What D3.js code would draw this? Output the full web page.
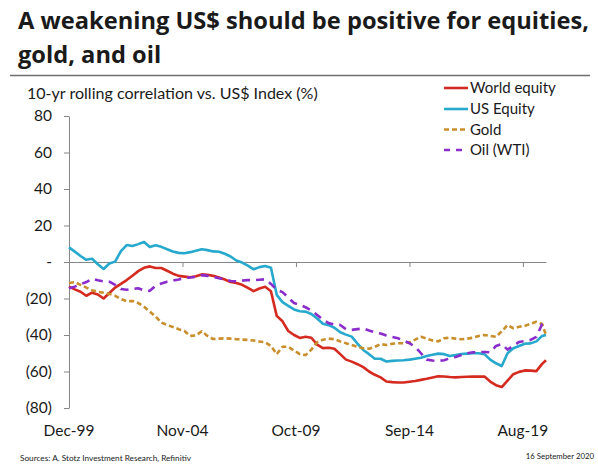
<!DOCTYPE html>
<html><head><meta charset="utf-8">
<script src="https://cdn.jsdelivr.net/npm/d3@7"></script>
<style>
body{margin:0;background:#fff}
svg{display:block}
text{font-family:Lato,"Open Sans",sans-serif;fill:#1a1a1a}
</style>
</head><body>
<svg id="chart" width="598" height="472"></svg>
<script>
// months elapsed since Dec-1999
const months = [0,3,6,9,12,15,18,21,24,27,30,33,36,39,42,45,48,51,54,57,60,63,66,69,72,75,78,81,84,87,90,93,96,99,102,105,108,111,114,117,120,123,126,129,132,135,138,141,144,147,150,153,156,159,162,165,168,171,174,177,180,183,186,189,192,195,198,201,204,207,210,213,216,219,222,225,228,231,234,237,240,243,246,248];

const worldEquity = [-13.5,-15,-16.3,-18.5,-16.8,-17.8,-20,-17,-14,-12,-9.9,-7.5,-5,-3.2,-2.4,-3.3,-3.3,-4.8,-6.4,-7.6,-8,-8.4,-7.8,-6.8,-7,-7.6,-8.5,-9.6,-11,-11.5,-12.5,-14.2,-16,-14.5,-13.6,-16,-29.5,-32.5,-37.8,-40,-41.6,-41,-41.5,-45.3,-47.2,-47,-47.5,-50.5,-53.5,-54.6,-56,-57.6,-60,-61.8,-63.2,-65.5,-65.8,-66,-66,-65.6,-65.2,-64.6,-64,-63.3,-62.6,-62.7,-63,-63.2,-63,-62.9,-62.8,-62.8,-62.8,-65.5,-67.5,-68.5,-65,-61.5,-60.2,-59.4,-59.5,-59.8,-55.8,-53.8];

const usEquity = [8,5.7,3.3,1.2,1.8,-1.2,-3.8,-0.8,0.2,6,9.3,8.8,9.8,11,8.2,9.2,8.3,7,5.8,5,4.8,5.4,6.2,7,6.5,5.8,5.6,4.5,3,0.8,-0.3,-2,-4,-2.8,-2.2,-3.2,-18,-22,-24,-26,-27,-27.2,-28.5,-31,-33.8,-34.6,-36,-38.5,-39.8,-40.9,-44.8,-48.2,-50.5,-53,-53,-54.5,-54.2,-54,-53.8,-53.5,-53,-52.5,-51.5,-50.8,-50.2,-50.5,-51.5,-51,-50.4,-50.2,-50,-50,-50.5,-53.5,-55.5,-57,-50,-47.3,-46,-44.8,-44.6,-43.5,-40.5,-40];

const gold = [-11.5,-11,-12.5,-14,-15.5,-16.3,-16.8,-17.5,-18.5,-20.3,-21.5,-21.4,-22.5,-24.5,-27.2,-29.8,-33.2,-34.5,-35.6,-36.8,-37.8,-40.5,-40.2,-38,-40.5,-42.2,-42,-41.8,-42,-42.3,-42.5,-42.7,-43,-43.6,-44,-46,-50.5,-46.4,-46.5,-48.5,-50.5,-51,-48,-44,-42.6,-42,-42.3,-43.5,-44.5,-45.5,-46.5,-47.3,-47.5,-46.5,-45,-45.5,-44.8,-44.5,-44.5,-44,-42.5,-41,-42,-43,-43.5,-41.8,-41.5,-42,-42.3,-42,-41.5,-40.5,-40,-40.5,-41,-38,-34.5,-36.3,-35.5,-35,-33.8,-32.8,-34,-40];

const oilWTI = [-14.4,-13.5,-12.2,-11,-9.2,-10,-10.6,-10.8,-12.5,-14.8,-15.2,-14.8,-14.4,-15.5,-15.8,-13,-11.8,-10.8,-10.2,-9.6,-8.8,-8.5,-8.2,-7.2,-7.6,-8.2,-8.9,-9.5,-10.4,-10.6,-10.2,-9.9,-10,-9.7,-9.5,-12,-15.2,-16.5,-19.5,-22.5,-23.5,-24.8,-26.5,-29,-31.5,-33.5,-34.2,-34.5,-36.8,-37.2,-36.8,-36.4,-37.5,-38.5,-39.2,-40.3,-41,-41.8,-43,-44.5,-46.5,-50,-53.5,-54,-54.2,-53.8,-52.8,-52,-51,-50,-49.5,-49.3,-49.3,-49.5,-46,-45,-48,-46,-43.8,-43.3,-42.7,-41,-34,-32.5];

const tickMonths = [0,59,118,177,236];
const tickLabels = ["Dec-99","Nov-04","Oct-09","Sep-14","Aug-19"];
const yTicks = [80,60,40,20,0,-20,-40,-60,-80];

const seriesNames = ["World equity","US Equity","Gold","Oil (WTI)"];
const seriesData = [worldEquity, usEquity, gold, oilWTI];
const seriesColors = ["#d42a1f","#27a9cd","#c98f2c","#8a2dcb"];
const seriesDash = [null, null, "5,3", "8,6"];

const svg = d3.select("#chart");

// scale a text's font-size so that its width matches a target width
function fitWidth(sel, target) {
  const fs = parseFloat(sel.style("font-size"));
  const w = sel.node().getComputedTextLength();
  if (w > 0) sel.style("font-size", (fs * target / w).toFixed(2) + "px");
  return sel;
}

// Title
const t1 = svg.append("text").attr("x",18).attr("y",29)
  .style("font-size","22px").style("font-weight","bold").style("font-family","'Open Sans',Lato,sans-serif")
  .text("A weakening US$ should be positive for equities,");
fitWidth(t1, 571);
const t2 = svg.append("text").attr("x",18).attr("y",63)
  .style("font-size", t1.style("font-size")).style("font-weight","bold").style("font-family","'Open Sans',Lato,sans-serif")
  .text("gold, and oil");
svg.append("line").attr("x1",10).attr("x2",590).attr("y1",75.5).attr("y2",75.5)
  .attr("stroke","#6e6e6e").attr("stroke-width",1.5);

// Subtitle
const st = svg.append("text").attr("x",27).attr("y",99).style("font-size","14.5px")
  .text("10-yr rolling correlation vs. US$ Index (%)");
fitWidth(st, 291);

const x = d3.scaleLinear().domain([0,248]).range([69,546]);
const y = d3.scaleLinear().domain([-80,80]).range([408,116]);

// Y axis
const yAxis = svg.append("g").attr("transform","translate(69,0)")
  .call(d3.axisLeft(y).tickValues(yTicks).tickSize(5).tickSizeOuter(0).tickPadding(12)
    .tickFormat(v => v > 0 ? String(v) : v === 0 ? "-" : "(" + (-v) + ")"));
yAxis.select(".domain").attr("stroke","#868686");
yAxis.selectAll(".tick line").attr("stroke","#868686");
yAxis.selectAll(".tick text").style("font-size","15.5px").style("font-family","Lato,'Open Sans',sans-serif").attr("fill","#1a1a1a");

// X axis at zero
const xAxis = svg.append("g").attr("transform","translate(0," + y(0) + ")")
  .call(d3.axisBottom(x).tickValues(tickMonths).tickSize(5).tickSizeOuter(0).tickFormat(""));
xAxis.select(".domain").attr("stroke","#868686");
xAxis.selectAll(".tick line").attr("stroke","#868686");

// X labels at bottom
svg.append("g").selectAll("text").data(tickMonths).join("text")
  .attr("x", d => x(d)).attr("y", 436).attr("text-anchor","middle")
  .style("font-size","15.5px").text((d,i) => tickLabels[i]);

// Lines
const line = d3.line().x((d,i) => x(months[i])).y(d => y(d));
seriesData.forEach((s, k) => {
  svg.append("path").datum(s).attr("d", line).attr("fill","none")
    .attr("stroke", seriesColors[k]).attr("stroke-width", 2.6)
    .attr("stroke-linejoin","round")
    .attr("stroke-dasharray", seriesDash[k]);
});

// Legend
const legendY = [88, 109, 129.5, 150];
seriesNames.forEach((n, k) => {
  svg.append("line").attr("x1",444).attr("x2",468).attr("y1",legendY[k]).attr("y2",legendY[k])
    .attr("stroke", seriesColors[k]).attr("stroke-width",2.6)
    .attr("stroke-dasharray", seriesDash[k] ? (k === 2 ? "5,3" : "6,6") : null);
  svg.append("text").attr("x",470).attr("y",legendY[k] + 5).style("font-size","15px").text(n);
});

// Footer
const src = svg.append("text").attr("x",20).attr("y",461).style("font-size","7.5px").attr("fill","#333")
  .text("Sources: A. Stotz Investment Research, Refinitiv");
fitWidth(src, 171);
svg.append("text").attr("x",594).attr("y",459).attr("text-anchor","end").style("font-size","7.8px").attr("fill","#333")
  .text("16 September  2020");
</script>
</body></html>
